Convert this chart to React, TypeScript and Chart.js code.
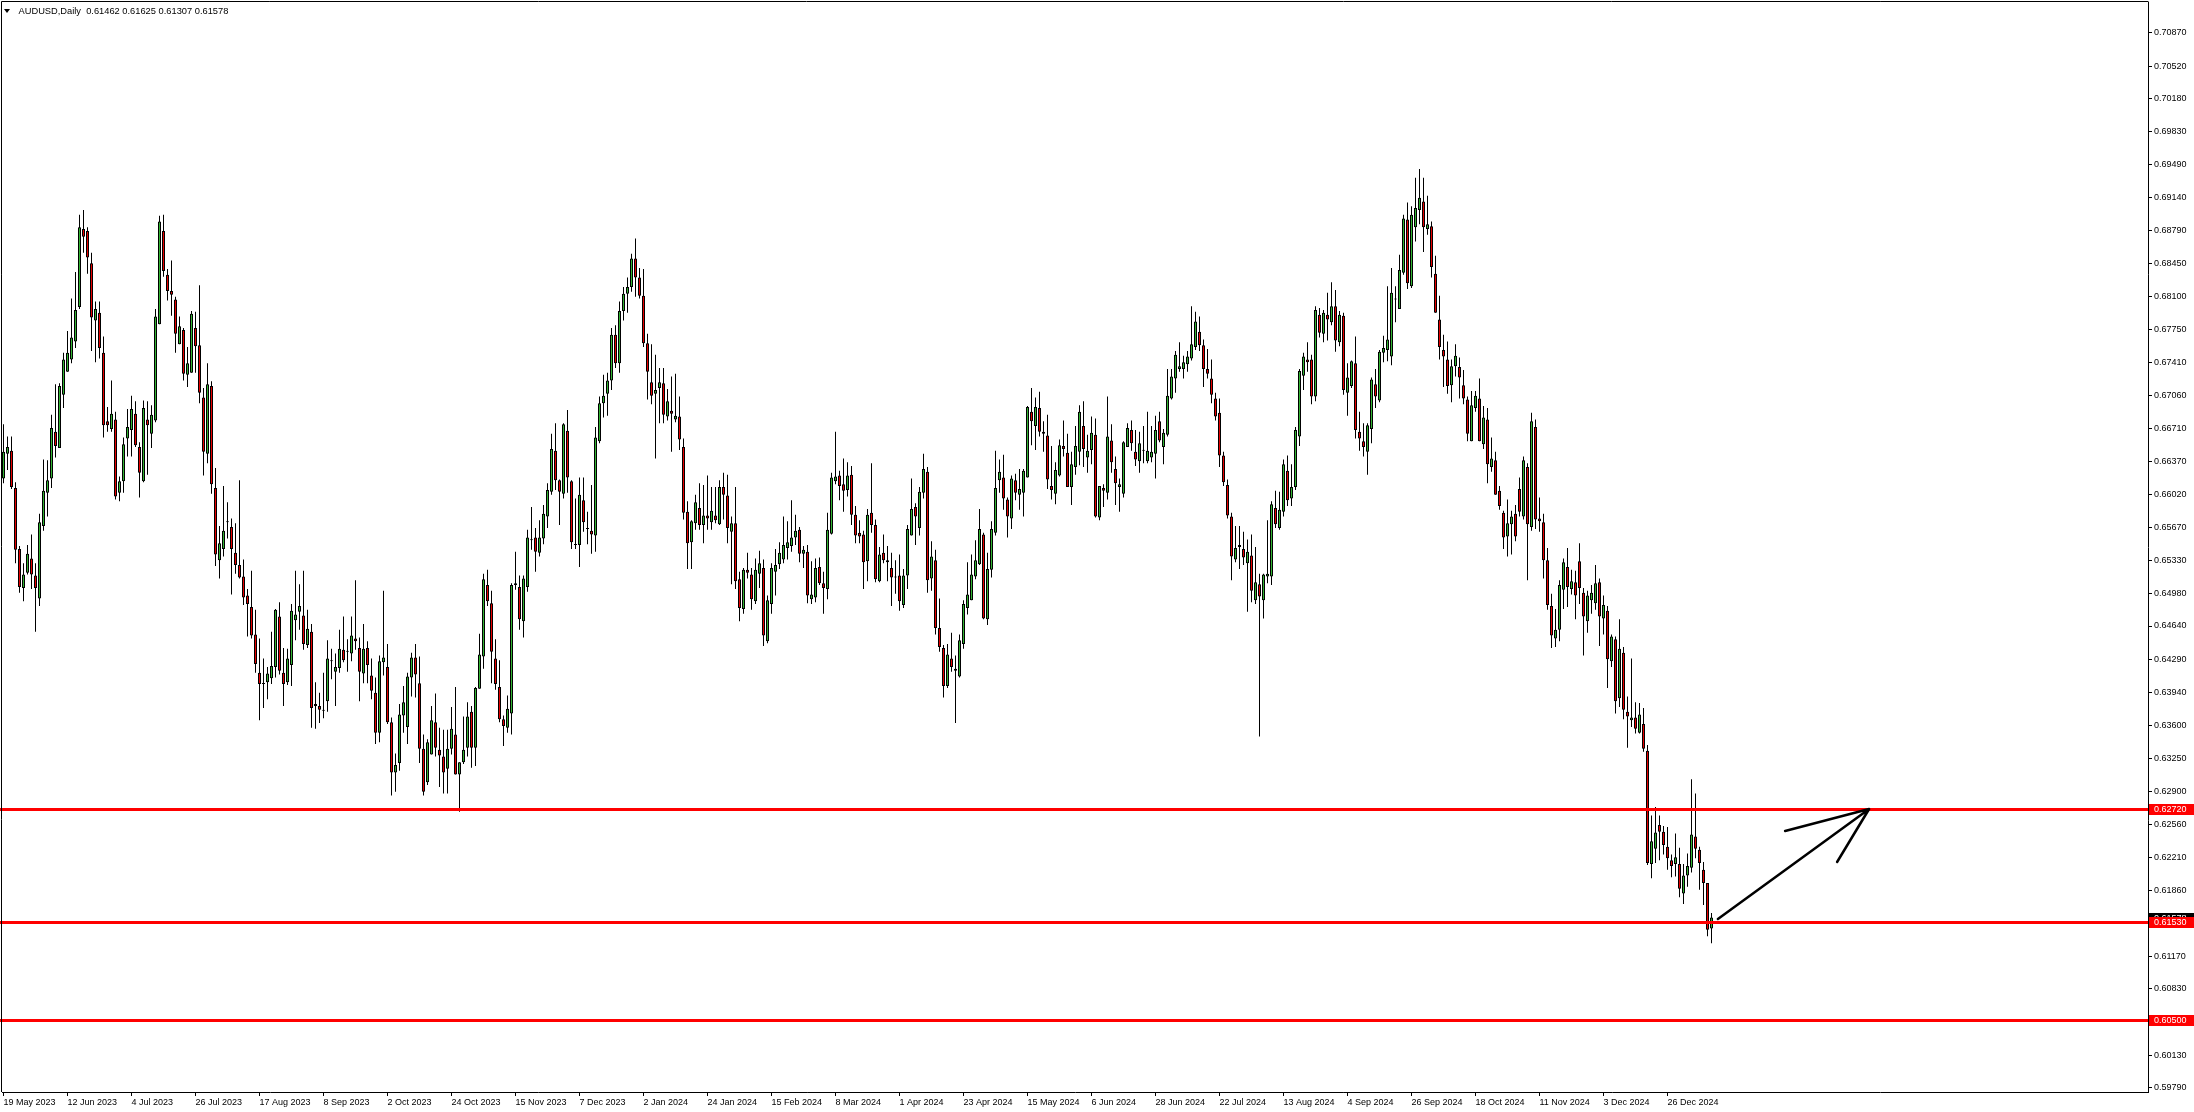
import React, { useEffect, useRef } from "react";
import { Chart, registerables } from "chart.js";

Chart.register(...registerables);

// ---------------- data ----------------
const symbolTitle = "AUDUSD,Daily";

const opens = [
  0.6619,0.6645,0.6648,0.6609,0.6545,0.6504,0.6520,0.6535,0.6517,0.6493,
  0.6569,0.6604,0.6619,0.6668,0.6651,0.6707,0.6731,0.6744,0.6763,0.6799,
  0.6881,0.6879,0.6845,0.6785,0.6793,0.6751,0.6679,0.6671,0.6681,0.6604,
  0.6616,0.6661,0.6670,0.6687,0.6652,0.6616,0.6681,0.6666,0.6680,0.6781,
  0.6879,0.6833,0.6816,0.6807,0.6760,0.6775,0.6728,0.6730,0.6777,0.6759,
  0.6704,0.6645,0.6716,0.6609,0.6533,0.6545,0.6573,0.6568,0.6541,0.6528,
  0.6516,0.6496,0.6484,0.6455,0.6415,0.6404,0.6405,0.6409,0.6421,0.6474,
  0.6415,0.6405,0.6423,0.6470,0.6479,0.6475,0.6444,0.6458,0.6380,0.6380,
  0.6375,0.6385,0.6427,0.6416,0.6420,0.6439,0.6437,0.6435,0.6451,0.6441,
  0.6414,0.6441,0.6412,0.6394,0.6352,0.6426,0.6421,0.6363,0.6310,0.6320,
  0.6370,0.6358,0.6410,0.6431,0.6404,0.6335,0.6300,0.6329,0.6363,0.6334,
  0.6327,0.6314,0.6335,0.6350,0.6308,0.6321,0.6336,0.6374,0.6336,0.6398,
  0.6432,0.6507,0.6488,0.6430,0.6400,0.6366,0.6357,0.6372,0.6507,0.6505,
  0.6469,0.6505,0.6555,0.6557,0.6541,0.6556,0.6579,0.6605,0.6648,0.6617,
  0.6603,0.6669,0.6616,0.6549,0.6549,0.6596,0.6567,0.6564,0.6559,0.6658,
  0.6698,0.6708,0.6722,0.6770,0.6740,0.6795,0.6813,0.6820,0.6850,0.6830,
  0.6811,0.6761,0.6720,0.6708,0.6714,0.6719,0.6684,0.6690,0.6681,0.6684,
  0.6652,0.6584,0.6552,0.6572,0.6588,0.6570,0.6580,0.6573,0.6580,0.6571,
  0.6610,0.6601,0.6563,0.6572,0.6513,0.6482,0.6523,0.6518,0.6490,0.6519,
  0.6525,0.6448,0.6487,0.6521,0.6529,0.6534,0.6546,0.6548,0.6557,0.6565,
  0.6540,0.6542,0.6492,0.6494,0.6526,0.6509,0.6503,0.6561,0.6616,0.6622,
  0.6613,0.6607,0.6623,0.6581,0.6562,0.6560,0.6532,0.6583,0.6570,0.6511,
  0.6541,0.6533,0.6525,0.6515,0.6517,0.6486,0.6517,0.6559,0.6589,0.6567,
  0.6604,0.6626,0.6514,0.6533,0.6462,0.6441,0.6401,0.6430,0.6419,0.6411,
  0.6445,0.6483,0.6491,0.6516,0.6529,0.6560,0.6471,0.6523,0.6562,0.6617,
  0.6620,0.6597,0.6577,0.6617,0.6602,0.6604,0.6620,0.6689,0.6674,0.6693,
  0.6668,0.6664,0.6611,0.6603,0.6622,0.6653,0.6646,0.6610,0.6631,0.6647,
  0.6674,0.6641,0.6649,0.6665,0.6578,0.6609,0.6604,0.6659,0.6629,0.6610,
  0.6603,0.6652,0.6670,0.6647,0.6637,0.6648,0.6637,0.6641,0.6645,0.6679,
  0.6652,0.6665,0.6703,0.6724,0.6734,0.6734,0.6739,0.6745,0.6757,0.6773,
  0.6759,0.6734,0.6724,0.6703,0.6688,0.6643,0.6612,0.6579,0.6534,0.6547,
  0.6545,0.6530,0.6538,0.6491,0.6508,0.6491,0.6516,0.6516,0.6588,0.6567,
  0.6584,0.6627,0.6598,0.6610,0.6663,0.6727,0.6744,0.6744,0.6705,0.6791,
  0.6771,0.6791,0.6783,0.6800,0.6762,0.6790,0.6709,0.6716,0.6740,0.6668,
  0.6658,0.6647,0.6671,0.6718,0.6701,0.6751,0.6754,0.6747,0.6807,0.6797,
  0.6835,0.6891,0.6821,0.6883,0.6901,0.6910,0.6881,0.6884,0.6834,0.6786,
  0.6754,0.6744,0.6717,0.6737,0.6736,0.6717,0.6702,0.6658,0.6693,0.6703,
  0.6655,0.6681,0.6631,0.6638,0.6606,0.6583,0.6558,0.6571,0.6582,0.6608,
  0.6579,0.6631,0.6568,0.6673,0.6577,0.6573,0.6533,0.6485,0.6451,0.6460,
  0.6502,0.6526,0.6503,0.6510,0.6532,0.6499,0.6469,0.6491,0.6488,0.6510,
  0.6472,0.6480,0.6427,0.6450,0.6388,0.6436,0.6374,0.6365,0.6368,0.6352,
  0.6361,0.6333,0.6214,0.6230,0.6255,0.6248,0.6232,0.6218,0.6214,0.6214,
  0.6183,0.6202,0.6210,0.6243,0.6229,0.6208,0.6194,0.61462,
];

const highs = [
  0.6676,0.6663,0.6663,0.6615,0.6548,0.6530,0.6549,0.6560,0.6530,0.6582,
  0.6639,0.6638,0.6686,0.6718,0.6719,0.6751,0.6774,0.6808,0.6836,0.6896,
  0.6901,0.6883,0.6856,0.6805,0.6805,0.6768,0.6694,0.6722,0.6689,0.6621,
  0.6662,0.6692,0.6706,0.6700,0.6657,0.6701,0.6700,0.6696,0.6797,0.6895,
  0.6896,0.6839,0.6848,0.6810,0.6789,0.6777,0.6757,0.6795,0.6794,0.6822,
  0.6714,0.6740,0.6721,0.6630,0.6569,0.6611,0.6594,0.6577,0.6572,0.6617,
  0.6534,0.6503,0.6522,0.6481,0.6451,0.6430,0.6421,0.6458,0.6482,0.6489,
  0.6441,0.6440,0.6487,0.6522,0.6508,0.6522,0.6481,0.6466,0.6405,0.6394,
  0.6415,0.6449,0.6440,0.6435,0.6460,0.6474,0.6450,0.6474,0.6512,0.6452,
  0.6466,0.6448,0.6430,0.6410,0.6433,0.6501,0.6445,0.6368,0.6330,0.6382,
  0.6401,0.6415,0.6436,0.6445,0.6432,0.6350,0.6345,0.6380,0.6393,0.6357,
  0.6355,0.6355,0.6379,0.6400,0.6321,0.6369,0.6384,0.6380,0.6400,0.6456,
  0.6519,0.6523,0.6501,0.6450,0.6428,0.6370,0.6391,0.6509,0.6542,0.6517,
  0.6517,0.6565,0.6589,0.6567,0.6575,0.6591,0.6614,0.6666,0.6677,0.6618,
  0.6677,0.6691,0.6617,0.6598,0.6620,0.6620,0.6584,0.6612,0.6673,0.6705,
  0.6728,0.6730,0.6777,0.6780,0.6805,0.6820,0.6830,0.6855,0.6871,0.6840,
  0.6839,0.6771,0.6760,0.6749,0.6735,0.6735,0.6713,0.6726,0.6729,0.6705,
  0.6661,0.6595,0.6575,0.6602,0.6614,0.6612,0.6622,0.6610,0.6610,0.6617,
  0.6625,0.6623,0.6579,0.6610,0.6521,0.6525,0.6541,0.6525,0.6535,0.6543,
  0.6534,0.6496,0.6530,0.6545,0.6552,0.6579,0.6574,0.6596,0.6581,0.6568,
  0.6548,0.6549,0.6532,0.6535,0.6536,0.6521,0.6583,0.6625,0.6668,0.6627,
  0.6640,0.6636,0.6632,0.6590,0.6575,0.6564,0.6587,0.6635,0.6576,0.6547,
  0.6560,0.6548,0.6541,0.6533,0.6539,0.6524,0.6570,0.6619,0.6593,0.6610,
  0.6645,0.6631,0.6553,0.6544,0.6493,0.6444,0.6445,0.6457,0.6433,0.6455,
  0.6491,0.6531,0.6539,0.6554,0.6587,0.6562,0.6541,0.6574,0.6648,0.6639,
  0.6644,0.6599,0.6622,0.6624,0.6629,0.6629,0.6695,0.6714,0.6704,0.6710,
  0.6679,0.6686,0.6653,0.6636,0.6660,0.6680,0.6666,0.6647,0.6674,0.6696,
  0.6700,0.6665,0.6684,0.6682,0.6611,0.6613,0.6705,0.6676,0.6642,0.6619,
  0.6658,0.6677,0.6680,0.6670,0.6668,0.6674,0.6689,0.6674,0.6685,0.6689,
  0.6671,0.6734,0.6734,0.6753,0.6762,0.6748,0.6753,0.6800,0.6794,0.6789,
  0.6765,0.6755,0.6744,0.6709,0.6703,0.6647,0.6618,0.6583,0.6569,0.6569,
  0.6563,0.6555,0.6560,0.6547,0.6519,0.6519,0.6575,0.6595,0.6606,0.6605,
  0.6639,0.6643,0.6634,0.6673,0.6734,0.6751,0.6762,0.6749,0.6800,0.6798,
  0.6796,0.6814,0.6825,0.6817,0.6795,0.6793,0.6740,0.6743,0.6768,0.6689,
  0.6677,0.6677,0.6725,0.6734,0.6754,0.6769,0.6821,0.6840,0.6821,0.6854,
  0.6896,0.6909,0.6905,0.6935,0.6944,0.6935,0.6916,0.6889,0.6853,0.6811,
  0.6770,0.6763,0.6744,0.6760,0.6746,0.6733,0.6705,0.6711,0.6711,0.6724,
  0.6695,0.6693,0.6662,0.6647,0.6611,0.6585,0.6597,0.6585,0.6591,0.6620,
  0.6642,0.6635,0.6688,0.6681,0.6599,0.6582,0.6546,0.6498,0.6482,0.6512,
  0.6535,0.6546,0.6523,0.6522,0.6551,0.6504,0.6501,0.6507,0.6528,0.6514,
  0.6496,0.6485,0.6455,0.6453,0.6471,0.6442,0.6390,0.6430,0.6384,0.6383,
  0.6378,0.6339,0.6265,0.6274,0.6265,0.6254,0.6253,0.6224,0.6246,0.6231,
  0.6214,0.6225,0.6303,0.6288,0.6232,0.6216,0.6194,0.61625,
];

const lows = [
  0.6614,0.6628,0.6608,0.6530,0.6499,0.6490,0.6518,0.6503,0.6458,0.6485,
  0.6564,0.6579,0.6609,0.6641,0.6651,0.6693,0.6731,0.6740,0.6756,0.6797,
  0.6856,0.6834,0.6753,0.6741,0.6745,0.6662,0.6668,0.6668,0.6597,0.6595,
  0.6604,0.6642,0.6642,0.6652,0.6599,0.6615,0.6623,0.6651,0.6678,0.6781,
  0.6831,0.6806,0.6790,0.6751,0.6760,0.6722,0.6715,0.6730,0.6730,0.6698,
  0.6622,0.6635,0.6603,0.6527,0.6514,0.6537,0.6556,0.6497,0.6519,0.6514,
  0.6486,0.6453,0.6451,0.6415,0.6365,0.6378,0.6387,0.6403,0.6410,0.6413,
  0.6380,0.6402,0.6401,0.6449,0.6460,0.6439,0.6441,0.6357,0.6356,0.6362,
  0.6367,0.6374,0.6408,0.6380,0.6415,0.6426,0.6416,0.6427,0.6439,0.6385,
  0.6404,0.6404,0.6387,0.6340,0.6342,0.6412,0.6361,0.6286,0.6290,0.6312,
  0.6352,0.6340,0.6390,0.6389,0.6320,0.6286,0.6297,0.6329,0.6327,0.6295,
  0.6288,0.6288,0.6329,0.6308,0.6269,0.6319,0.6327,0.6315,0.6317,0.6398,
  0.6419,0.6485,0.6404,0.6397,0.6363,0.6338,0.6352,0.6350,0.6502,0.6460,
  0.6452,0.6500,0.6544,0.6521,0.6537,0.6550,0.6567,0.6602,0.6607,0.6570,
  0.6598,0.6604,0.6545,0.6545,0.6526,0.6563,0.6550,0.6540,0.6542,0.6656,
  0.6683,0.6685,0.6712,0.6735,0.6730,0.6785,0.6793,0.6815,0.6810,0.6808,
  0.6757,0.6702,0.6697,0.6640,0.6677,0.6677,0.6680,0.6647,0.6678,0.6649,
  0.6576,0.6524,0.6524,0.6565,0.6565,0.6551,0.6565,0.6565,0.6572,0.6570,
  0.6576,0.6551,0.6508,0.6503,0.6469,0.6477,0.6514,0.6481,0.6487,0.6504,
  0.6443,0.6446,0.6477,0.6496,0.6524,0.6530,0.6534,0.6542,0.6549,0.6531,
  0.6525,0.6488,0.6487,0.6489,0.6507,0.6477,0.6492,0.6560,0.6613,0.6596,
  0.6584,0.6600,0.6570,0.6551,0.6551,0.6503,0.6511,0.6562,0.6510,0.6510,
  0.6530,0.6511,0.6485,0.6498,0.6480,0.6483,0.6503,0.6559,0.6549,0.6559,
  0.6598,0.6499,0.6501,0.6455,0.6437,0.6389,0.6399,0.6416,0.6362,0.6410,
  0.6440,0.6476,0.6491,0.6513,0.6528,0.6471,0.6465,0.6515,0.6559,0.6604,
  0.6586,0.6557,0.6566,0.6596,0.6586,0.6579,0.6620,0.6654,0.6649,0.6663,
  0.6647,0.6608,0.6597,0.6592,0.6621,0.6642,0.6610,0.6591,0.6623,0.6633,
  0.6631,0.6625,0.6634,0.6578,0.6575,0.6589,0.6597,0.6625,0.6591,0.6584,
  0.6599,0.6652,0.6648,0.6632,0.6625,0.6635,0.6635,0.6636,0.6619,0.6657,
  0.6634,0.6663,0.6702,0.6709,0.6731,0.6724,0.6731,0.6743,0.6754,0.6753,
  0.6715,0.6724,0.6698,0.6680,0.6631,0.6611,0.6577,0.6512,0.6531,0.6524,
  0.6528,0.6479,0.6489,0.6487,0.6348,0.6472,0.6509,0.6507,0.6567,0.6565,
  0.6579,0.6590,0.6590,0.6607,0.6653,0.6712,0.6731,0.6697,0.6700,0.6767,
  0.6762,0.6764,0.6780,0.6752,0.6758,0.6707,0.6685,0.6714,0.6661,0.6648,
  0.6642,0.6623,0.6656,0.6693,0.6699,0.6741,0.6742,0.6738,0.6783,0.6797,
  0.6833,0.6818,0.6819,0.6868,0.6886,0.6857,0.6875,0.6830,0.6793,0.6744,
  0.6715,0.6708,0.6699,0.6726,0.6703,0.6697,0.6658,0.6658,0.6689,0.6658,
  0.6650,0.6614,0.6626,0.6602,0.6586,0.6545,0.6537,0.6539,0.6553,0.6579,
  0.6576,0.6512,0.6564,0.6566,0.6563,0.6514,0.6481,0.6441,0.6442,0.6448,
  0.6482,0.6484,0.6497,0.6471,0.6487,0.6433,0.6457,0.6477,0.6481,0.6443,
  0.6455,0.6399,0.6421,0.6372,0.6379,0.6366,0.6336,0.6358,0.6351,0.6351,
  0.6332,0.6213,0.6199,0.6215,0.6218,0.6224,0.6208,0.6200,0.6201,0.6179,
  0.6172,0.6190,0.6205,0.6220,0.6187,0.6171,0.6138,0.61307,
];

const closes = [
  0.6647,0.6652,0.6610,0.6544,0.6505,0.6518,0.6540,0.6518,0.6504,0.6573,
  0.6606,0.6617,0.6672,0.6653,0.6716,0.6744,0.6751,0.6767,0.6796,0.6883,
  0.6873,0.6851,0.6788,0.6797,0.6756,0.6675,0.6675,0.6687,0.6600,0.6616,
  0.6655,0.6673,0.6692,0.6654,0.6625,0.6693,0.6675,0.6686,0.6789,0.6889,
  0.6837,0.6816,0.6812,0.6771,0.6779,0.6729,0.6740,0.6792,0.6758,0.6709,
  0.6647,0.6718,0.6613,0.6539,0.6551,0.6564,0.6574,0.6545,0.6528,0.6515,
  0.6494,0.6487,0.6454,0.6424,0.6403,0.6403,0.6414,0.6422,0.6481,0.6417,
  0.6403,0.6430,0.6480,0.6476,0.6485,0.6445,0.6461,0.6378,0.6382,0.6376,
  0.6375,0.6430,0.6427,0.6421,0.6440,0.6428,0.6437,0.6454,0.6448,0.6416,
  0.6440,0.6423,0.6396,0.6352,0.6427,0.6431,0.6363,0.6310,0.6318,0.6371,
  0.6384,0.6411,0.6431,0.6413,0.6335,0.6290,0.6342,0.6365,0.6336,0.6328,
  0.6310,0.6335,0.6356,0.6308,0.6321,0.6334,0.6369,0.6336,0.6399,0.6434,
  0.6513,0.6490,0.6437,0.6403,0.6366,0.6359,0.6377,0.6507,0.6509,0.6471,
  0.6514,0.6557,0.6554,0.6542,0.6557,0.6582,0.6607,0.6650,0.6617,0.6605,
  0.6676,0.6620,0.6552,0.6549,0.6602,0.6573,0.6566,0.6560,0.6662,0.6698,
  0.6706,0.6722,0.6770,0.6740,0.6795,0.6813,0.6820,0.6850,0.6830,0.6811,
  0.6761,0.6731,0.6706,0.6712,0.6720,0.6686,0.6700,0.6687,0.6685,0.6660,
  0.6583,0.6551,0.6574,0.6594,0.6570,0.6580,0.6577,0.6585,0.6575,0.6610,
  0.6602,0.6567,0.6572,0.6511,0.6483,0.6523,0.6520,0.6492,0.6523,0.6530,
  0.6454,0.6491,0.6525,0.6528,0.6541,0.6549,0.6552,0.6557,0.6564,0.6540,
  0.6544,0.6496,0.6497,0.6525,0.6509,0.6504,0.6565,0.6620,0.6621,0.6611,
  0.6606,0.6622,0.6581,0.6559,0.6558,0.6531,0.6581,0.6570,0.6513,0.6539,
  0.6533,0.6531,0.6515,0.6515,0.6490,0.6517,0.6566,0.6587,0.6579,0.6605,
  0.6629,0.6512,0.6537,0.6462,0.6442,0.6401,0.6434,0.6421,0.6417,0.6449,
  0.6487,0.6497,0.6518,0.6533,0.6566,0.6472,0.6524,0.6566,0.6609,0.6626,
  0.6598,0.6579,0.6619,0.6604,0.6608,0.6627,0.6694,0.6679,0.6694,0.6668,
  0.6666,0.6618,0.6607,0.6628,0.6654,0.6650,0.6610,0.6634,0.6653,0.6689,
  0.6650,0.6648,0.6667,0.6579,0.6611,0.6606,0.6663,0.6636,0.6614,0.6613,
  0.6657,0.6672,0.6656,0.6639,0.6656,0.6648,0.6648,0.6647,0.6670,0.6659,
  0.6667,0.6706,0.6726,0.6749,0.6737,0.6741,0.6747,0.6760,0.6784,0.6759,
  0.6734,0.6729,0.6707,0.6684,0.6643,0.6615,0.6580,0.6537,0.6546,0.6549,
  0.6536,0.6542,0.6501,0.6510,0.6495,0.6518,0.6519,0.6592,0.6571,0.6586,
  0.6634,0.6596,0.6610,0.6670,0.6732,0.6747,0.6741,0.6705,0.6796,0.6772,
  0.6793,0.6786,0.6800,0.6764,0.6791,0.6712,0.6725,0.6742,0.6670,0.6661,
  0.6652,0.6675,0.6723,0.6705,0.6752,0.6756,0.6765,0.6814,0.6807,0.6838,
  0.6892,0.6824,0.6896,0.6903,0.6914,0.6883,0.6886,0.6841,0.6793,0.6757,
  0.6747,0.6716,0.6737,0.6748,0.6725,0.6703,0.6666,0.6696,0.6706,0.6658,
  0.6683,0.6634,0.6640,0.6602,0.6590,0.6557,0.6572,0.6579,0.6558,0.6584,
  0.6638,0.6571,0.6679,0.6576,0.6574,0.6533,0.6486,0.6454,0.6460,0.6507,
  0.6531,0.6505,0.6511,0.6496,0.6504,0.6474,0.6496,0.6499,0.6509,0.6474,
  0.6486,0.6429,0.6453,0.6385,0.6440,0.6376,0.6369,0.6368,0.6356,0.6371,
  0.6335,0.6215,0.6238,0.6247,0.6248,0.6234,0.6220,0.6212,0.6221,0.6188,
  0.6202,0.6212,0.6245,0.6230,0.6215,0.6194,0.6145,0.61578,
];

// date labels shown every 16 bars on the time axis
const dateLabels = [
  "19 May 2023", "12 Jun 2023", "4 Jul 2023", "26 Jul 2023", "17 Aug 2023",
  "8 Sep 2023", "2 Oct 2023", "24 Oct 2023", "15 Nov 2023", "7 Dec 2023",
  "2 Jan 2024", "24 Jan 2024", "15 Feb 2024", "8 Mar 2024", "1 Apr 2024",
  "23 Apr 2024", "15 May 2024", "6 Jun 2024", "28 Jun 2024", "22 Jul 2024",
  "13 Aug 2024", "4 Sep 2024", "26 Sep 2024", "18 Oct 2024", "11 Nov 2024",
  "3 Dec 2024", "26 Dec 2024",
];
const dateLabelStep = 16;

const priceTicks = [
  0.7087, 0.7052, 0.7018, 0.6983, 0.6949, 0.6914, 0.6879, 0.6845, 0.681,
  0.6775, 0.6741, 0.6706, 0.6671, 0.6637, 0.6602, 0.6567, 0.6533, 0.6498,
  0.6464, 0.6429, 0.6394, 0.636, 0.6325, 0.629, 0.6256, 0.6221, 0.6186,
  0.6152, 0.6117, 0.6083, 0.6048, 0.6013, 0.5979,
];

// horizontal support / resistance levels
const levelLines = [0.6272, 0.6153, 0.605];

// hand-drawn arrow, in (bar index, price)
const arrowTail = [428.6, 0.61562];
const arrowTip = [466.4, 0.62718];
const arrowBarbA = [445.4, 0.62487];
const arrowBarbB = [458.4, 0.62161];

// ---------------- styling / layout ----------------
const W = 2194;
const H = 1112;
const X_MIN = -0.375;
const X_MAX = 536.125;
const Y_MIN = 0.59745;
const Y_MAX = 0.71195;
const GREEN = "#32b432";
const RED = "#e60000";
const FONT = "Liberation Sans";

function zeroPadding(scale: any) {
  scale.paddingTop = 0;
  scale.paddingBottom = 0;
  scale.paddingLeft = 0;
  scale.paddingRight = 0;
}

function buildConfig(): any {
  const n = closes.length;
  const idx = closes.map((_, i) => i);
  const bodies = idx.map((i) => ({ x: i, y: [opens[i], closes[i]] }));
  const wicks = idx.map((i) => ({
    x: i,
    y: [Math.min(lows[i], opens[i], closes[i]), Math.max(highs[i], opens[i], closes[i])],
  }));
  const colors = idx.map((i) =>
    closes[i] - opens[i] > 0.00004 ? GREEN : opens[i] - closes[i] > 0.00004 ? RED : "#000000"
  );

  const last = n - 1;
  const header = `${symbolTitle}  ${opens[last].toFixed(5)} ${highs[last].toFixed(5)} ${lows[last].toFixed(5)} ${closes[last].toFixed(5)}`;

  const overlay = {
    id: "mtOverlay",
    afterDatasetsDraw(chart: any) {
      const { ctx, chartArea } = chart;
      const xs = chart.scales.x;
      const ys = chart.scales.y;
      ctx.save();
      ctx.strokeStyle = "#ff0000";
      ctx.lineWidth = 3;
      for (const lv of levelLines) {
        const py = Math.round(ys.getPixelForValue(lv)) + 0.5;
        ctx.beginPath();
        ctx.moveTo(0, py);
        ctx.lineTo(chartArea.right, py);
        ctx.stroke();
      }
      const p = (a: number[]) => [xs.getPixelForValue(a[0]), ys.getPixelForValue(a[1])];
      const t0 = p(arrowTail);
      const t1 = p(arrowTip);
      const b1 = p(arrowBarbA);
      const b2 = p(arrowBarbB);
      ctx.strokeStyle = "#000";
      ctx.lineWidth = 2.5;
      ctx.lineCap = "round";
      ctx.lineJoin = "round";
      ctx.beginPath();
      ctx.moveTo(t0[0], t0[1]);
      ctx.lineTo(t1[0], t1[1]);
      ctx.moveTo(b1[0], b1[1]);
      ctx.lineTo(t1[0], t1[1]);
      ctx.lineTo(b2[0], b2[1]);
      ctx.stroke();
      ctx.restore();
    },
    afterDraw(chart: any) {
      const { ctx, chartArea } = chart;
      const ys = chart.scales.y;
      ctx.save();
      ctx.strokeStyle = "#000";
      ctx.lineWidth = 1;
      ctx.beginPath();
      ctx.moveTo(1.5, chartArea.bottom);
      ctx.lineTo(1.5, 1.5);
      ctx.lineTo(chartArea.right + 0.5, 1.5);
      ctx.stroke();

      ctx.font = `9px "${FONT}"`;
      ctx.textBaseline = "middle";
      ctx.textAlign = "left";
      const box = (value: number, bg: string) => {
        const py = Math.round(ys.getPixelForValue(value));
        ctx.fillStyle = bg;
        ctx.fillRect(chartArea.right + 1, py - 5, W - chartArea.right - 1, 11);
        ctx.fillStyle = "#ffffff";
        ctx.fillText(value.toFixed(5), chartArea.right + 6, py + 0.5);
      };
      box(closes[last], "#000000");
      for (const lv of levelLines) box(lv, "#ff0000");

      ctx.fillStyle = "#000";
      ctx.beginPath();
      ctx.moveTo(4, 9);
      ctx.lineTo(10, 9);
      ctx.lineTo(7, 13);
      ctx.closePath();
      ctx.fill();
      ctx.font = `9.3px "${FONT}"`;
      ctx.fillText(header, 18.5, 11.5);
      ctx.restore();
    },
  };

  return {
    type: "bar",
    data: {
      datasets: [
        {
          label: "body",
          data: bodies,
          backgroundColor: colors,
          borderColor: "#000000",
          borderWidth: 1,
          borderSkipped: false,
          barThickness: 3,
          minBarLength: 1,
          grouped: false,
          inflateAmount: 0,
          order: 1,
        },
        {
          label: "wick",
          data: wicks,
          backgroundColor: "#000000",
          borderWidth: 0,
          barThickness: 1,
          minBarLength: 1,
          grouped: false,
          inflateAmount: 0,
          order: 2,
        },
      ],
    },
    options: {
      animation: false,
      responsive: false,
      maintainAspectRatio: false,
      devicePixelRatio: 1,
      events: [],
      layout: { autoPadding: false, padding: { left: 2, top: 2, right: 0, bottom: 0 } },
      plugins: {
        legend: { display: false },
        tooltip: { enabled: false },
        title: { display: false },
      },
      scales: {
        x: {
          type: "linear",
          min: X_MIN,
          max: X_MAX,
          offset: false,
          grid: {
            display: true,
            drawOnChartArea: false,
            drawTicks: true,
            tickLength: 4,
            color: "#000000",
            offset: false,
          },
          border: { display: true, color: "#000000", width: 1 },
          ticks: {
            autoSkip: false,
            maxRotation: 0,
            minRotation: 0,
            align: "start",
            padding: 1,
            color: "#000000",
            font: { family: FONT, size: 9 },
            callback: (_v: any, index: number) => dateLabels[index] ?? "",
          },
          afterBuildTicks: (scale: any) => {
            scale.ticks = dateLabels.map((_, k) => ({ value: k * dateLabelStep }));
          },
          afterFit: (scale: any) => {
            scale.height = 20;
            zeroPadding(scale);
          },
        },
        y: {
          type: "linear",
          position: "right",
          min: Y_MIN,
          max: Y_MAX,
          beginAtZero: false,
          grid: {
            display: true,
            drawOnChartArea: false,
            drawTicks: true,
            tickLength: 4,
            color: "#000000",
          },
          border: { display: true, color: "#000000", width: 1 },
          ticks: {
            autoSkip: false,
            padding: 2,
            color: "#000000",
            font: { family: FONT, size: 9 },
            callback: (v: any) => Number(v).toFixed(5),
          },
          afterBuildTicks: (scale: any) => {
            scale.ticks = priceTicks.map((v) => ({ value: v }));
          },
          afterFit: (scale: any) => {
            scale.width = 46;
            zeroPadding(scale);
          },
        },
      },
    },
    plugins: [overlay],
  };
}

export default function App() {
  const ref = useRef<HTMLCanvasElement | null>(null);
  useEffect(() => {
    document.body.style.margin = "0";
    const canvas = ref.current;
    if (!canvas) return;
    const chart = new Chart(canvas, buildConfig());
    return () => chart.destroy();
  }, []);
  return (
    <div style={{ position: "absolute", left: 0, top: 0, width: W, height: H, background: "#ffffff" }}>
      <canvas ref={ref} width={W} height={H} style={{ display: "block", width: W, height: H }} />
    </div>
  );
}
